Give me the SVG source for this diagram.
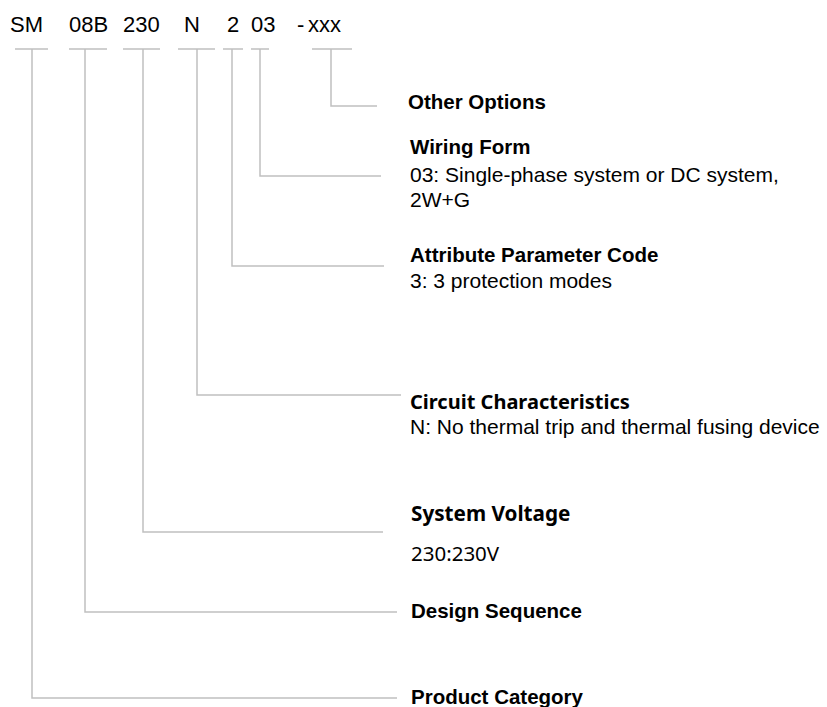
<svg xmlns="http://www.w3.org/2000/svg" width="827" height="707" viewBox="0 0 827 707">
<style>
.code{font-family:"Liberation Sans",Arial,sans-serif;font-size:22px;fill:#000}
.t{font-family:"Liberation Sans",Arial,sans-serif;font-size:20.5px;font-weight:bold;fill:#000}
.d{font-family:"Liberation Sans",Arial,sans-serif;font-size:21px;fill:#000}
.ts{font-family:"Noto Sans","Open Sans",sans-serif;font-size:20px;font-weight:bold;fill:#000}
.ts2{font-family:"Noto Sans","Open Sans",sans-serif;font-size:20.7px;font-weight:bold;fill:#000}
.ds{font-family:"Noto Sans","Open Sans",sans-serif;font-size:20.5px;fill:#000}
.ln{fill:none;stroke:#c0c0c0;stroke-width:1.5}
</style>
<rect width="827" height="707" fill="#fff"/>
<g id="code">
<text class="code" x="10" y="32">SM</text>
<text class="code" x="69" y="32">08B</text>
<text class="code" x="123" y="32">230</text>
<text class="code" x="184" y="32">N</text>
<text class="code" x="227" y="32">2</text>
<text class="code" x="251" y="32">03</text>
<text class="code" x="297" y="32">-</text>
<text class="code" x="308" y="32">xxx</text>
</g>
<g id="connectors">
<path class="ln" d="M15 49H48M69 49H107M123 49H160M178 49H215M223 49H243M251 49H269M312 49H352"/>
<path class="ln" d="M331 49V106H377"/>
<path class="ln" d="M260 49V176H381"/>
<path class="ln" d="M232 49V266H384"/>
<path class="ln" d="M197 49V395H401"/>
<path class="ln" d="M143 49V532H383"/>
<path class="ln" d="M85 49V612H397"/>
<path class="ln" d="M32 49V698H397"/>
</g>
<g id="other-options">
<text class="t" x="408" y="109">Other Options</text>
</g>
<g id="wiring-form">
<text class="t" x="410" y="154">Wiring Form</text>
<text class="d" x="410" y="182">03: Single-phase system or DC system,</text>
<text class="d" x="410" y="207">2W+G</text>
</g>
<g id="attribute-parameter-code">
<text class="t" x="410" y="262">Attribute Parameter Code</text>
<text class="d" x="410" y="288">3: 3 protection modes</text>
</g>
<g id="circuit-characteristics">
<text class="ts" x="410" y="409">Circuit Characteristics</text>
<text class="d" x="410" y="434">N: No thermal trip and thermal fusing device</text>
</g>
<g id="system-voltage">
<text class="ts2" x="411" y="521">System Voltage</text>
<text class="ds" x="411" y="561">230:230V</text>
</g>
<g id="design-sequence">
<text class="t" x="411" y="618">Design Sequence</text>
</g>
<g id="product-category">
<text class="t" x="411" y="704">Product Category</text>
</g>
</svg>
